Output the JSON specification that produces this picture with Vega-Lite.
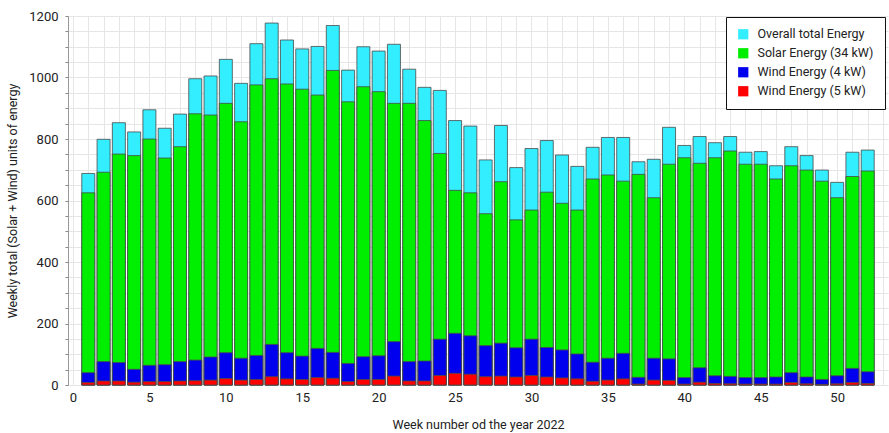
{
  "$schema": "https://vega.github.io/schema/vega-lite/v6.json",
  "width": 820,
  "height": 369,
  "autosize": {"type": "none"},
  "padding": {"left": 68, "top": 16, "right": 1, "bottom": 48},
  "background": "white",
  "config": {
    "view": {"stroke": null},
    "font": "Roboto",
    "axis": {"labelFont": "Roboto", "titleFont": "Roboto", "labelColor": "#222", "titleColor": "#222", "titleFontWeight": "normal"}
  },
  "data": {
    "values": [
      {"week": 1, "total": 688, "solar": 625, "w4": 40, "w5": 8},
      {"week": 2, "total": 799, "solar": 692, "w4": 76, "w5": 13},
      {"week": 3, "total": 853, "solar": 751, "w4": 73, "w5": 13},
      {"week": 4, "total": 823, "solar": 746, "w4": 51, "w5": 9},
      {"week": 5, "total": 895, "solar": 800, "w4": 64, "w5": 11},
      {"week": 6, "total": 835, "solar": 738, "w4": 66, "w5": 11},
      {"week": 7, "total": 881, "solar": 775, "w4": 76, "w5": 13},
      {"week": 8, "total": 996, "solar": 882, "w4": 81, "w5": 14},
      {"week": 9, "total": 1005, "solar": 878, "w4": 91, "w5": 16},
      {"week": 10, "total": 1059, "solar": 916, "w4": 105, "w5": 21},
      {"week": 11, "total": 981, "solar": 856, "w4": 87, "w5": 16},
      {"week": 12, "total": 1110, "solar": 976, "w4": 96, "w5": 18},
      {"week": 13, "total": 1177, "solar": 996, "w4": 132, "w5": 27},
      {"week": 14, "total": 1122, "solar": 979, "w4": 105, "w5": 20},
      {"week": 15, "total": 1093, "solar": 962, "w4": 94, "w5": 18},
      {"week": 16, "total": 1101, "solar": 943, "w4": 119, "w5": 24},
      {"week": 17, "total": 1169, "solar": 1023, "w4": 106, "w5": 22},
      {"week": 18, "total": 1024, "solar": 921, "w4": 70, "w5": 11},
      {"week": 19, "total": 1100, "solar": 970, "w4": 92, "w5": 18},
      {"week": 20, "total": 1086, "solar": 954, "w4": 95, "w5": 18},
      {"week": 21, "total": 1108, "solar": 916, "w4": 141, "w5": 29},
      {"week": 22, "total": 1027, "solar": 916, "w4": 76, "w5": 13},
      {"week": 23, "total": 968, "solar": 860, "w4": 78, "w5": 13},
      {"week": 24, "total": 958, "solar": 753, "w4": 149, "w5": 31},
      {"week": 25, "total": 860, "solar": 633, "w4": 168, "w5": 38},
      {"week": 26, "total": 842, "solar": 625, "w4": 160, "w5": 35},
      {"week": 27, "total": 732, "solar": 557, "w4": 128, "w5": 27},
      {"week": 28, "total": 844, "solar": 661, "w4": 136, "w5": 29},
      {"week": 29, "total": 707, "solar": 537, "w4": 121, "w5": 26},
      {"week": 30, "total": 769, "solar": 569, "w4": 149, "w5": 31},
      {"week": 31, "total": 795, "solar": 627, "w4": 122, "w5": 26},
      {"week": 32, "total": 748, "solar": 591, "w4": 114, "w5": 23},
      {"week": 33, "total": 711, "solar": 569, "w4": 101, "w5": 20},
      {"week": 34, "total": 773, "solar": 670, "w4": 74, "w5": 12},
      {"week": 35, "total": 805, "solar": 683, "w4": 87, "w5": 16},
      {"week": 36, "total": 805, "solar": 663, "w4": 103, "w5": 20},
      {"week": 37, "total": 726, "solar": 685, "w4": 25, "w5": 3},
      {"week": 38, "total": 734, "solar": 609, "w4": 87, "w5": 16},
      {"week": 39, "total": 838, "solar": 718, "w4": 85, "w5": 15},
      {"week": 40, "total": 779, "solar": 739, "w4": 24, "w5": 3},
      {"week": 41, "total": 808, "solar": 721, "w4": 56, "w5": 9},
      {"week": 42, "total": 788, "solar": 739, "w4": 30, "w5": 5},
      {"week": 43, "total": 808, "solar": 761, "w4": 28, "w5": 4},
      {"week": 44, "total": 757, "solar": 718, "w4": 24, "w5": 3},
      {"week": 45, "total": 759, "solar": 718, "w4": 24, "w5": 3},
      {"week": 46, "total": 713, "solar": 670, "w4": 26, "w5": 3},
      {"week": 47, "total": 775, "solar": 713, "w4": 40, "w5": 8},
      {"week": 48, "total": 746, "solar": 699, "w4": 26, "w5": 4},
      {"week": 49, "total": 699, "solar": 663, "w4": 18, "w5": 2},
      {"week": 50, "total": 659, "solar": 609, "w4": 30, "w5": 4},
      {"week": 51, "total": 757, "solar": 678, "w4": 54, "w5": 8},
      {"week": 52, "total": 764, "solar": 696, "w4": 43, "w5": 5}
    ]
  },
  "transform": [
    {"fold": ["total", "solar", "w4", "w5"], "as": ["key", "value"]},
    {"lookup": "key", "from": {"data": {"values": [
      {"key": "total", "series": "Overall total Energy", "rank": 1},
      {"key": "solar", "series": "Solar Energy (34 kW)", "rank": 2},
      {"key": "w4", "series": "Wind Energy (4 kW)", "rank": 3},
      {"key": "w5", "series": "Wind Energy (5 kW)", "rank": 4}
    ]}, "key": "key", "fields": ["series", "rank"]}}
  ],
  "mark": {"type": "bar", "size": 13, "stroke": "#4a4a4a", "strokeWidth": 0.8, "opacity": 1},
  "encoding": {
    "x": {
      "field": "week", "type": "quantitative",
      "scale": {"domain": [0, 53], "nice": false, "zero": false},
      "axis": {
        "title": "Week number od the year 2022",
        "values": [0,1,2,3,4,5,6,7,8,9,10,11,12,13,14,15,16,17,18,19,20,21,22,23,24,25,26,27,28,29,30,31,32,33,34,35,36,37,38,39,40,41,42,43,44,45,46,47,48,49,50,51,52,53],
        "format": "d",
        "labelExpr": "datum.value % 5 == 0 ? datum.label : ''",
        "labelOverlap": false,
        "labelFontSize": 13,
        "labelPadding": 6,
        "titleFontSize": 12.5,
        "titlePadding": 14,
        "ticks": false,
        "domain": false,
        "grid": true,
        "gridColor": "#e6e6e6",
        "gridWidth": 1
      }
    },
    "y": {
      "field": "value", "type": "quantitative",
      "stack": null,
      "scale": {"domain": [0, 1200], "nice": false},
      "axis": {
        "title": "Weekly total (Solar + Wind) units of energy",
        "values": [0,50,100,150,200,250,300,350,400,450,500,550,600,650,700,750,800,850,900,950,1000,1050,1100,1150,1200],
        "format": "d",
        "labelExpr": "datum.value % 200 == 0 ? datum.label : ''",
        "labelOverlap": false,
        "labelFontSize": 13,
        "labelPadding": 7,
        "titleFontSize": 12.5,
        "titlePadding": 9,
        "tickSize": 3,
        "tickColor": "#888",
        "domainColor": "#999",
        "grid": true,
        "gridColor": "#e6e6e6",
        "gridWidth": 1
      }
    },
    "color": {
      "field": "series", "type": "nominal",
      "scale": {
        "domain": ["Overall total Energy", "Solar Energy (34 kW)", "Wind Energy (4 kW)", "Wind Energy (5 kW)"],
        "range": ["#33eeff", "#00ee00", "#0000ee", "#ff0000"]
      },
      "legend": {
        "title": null,
        "orient": "none",
        "legendX": 658,
        "legendY": 1,
        "padding": 11,
        "strokeColor": "#111",
        "fillColor": "white",
        "symbolType": "square",
        "symbolSize": 105,
        "symbolStrokeWidth": 0,
        "symbolOpacity": 1,
        "labelFont": "Roboto",
        "labelFontSize": 12.5,
        "labelColor": "#222",
        "rowPadding": 6,
        "labelOffset": 8
      }
    },
    "order": {"field": "rank", "type": "quantitative", "sort": "ascending"}
  }
}
